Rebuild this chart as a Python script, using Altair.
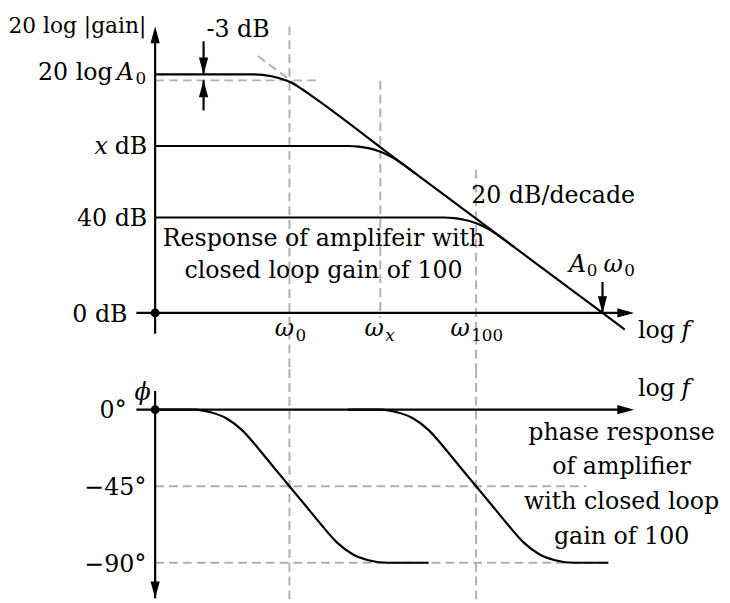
import altair as alt
import pandas as pd

# ---------------- data (x: log f in decades from the vertical axis; top y: dB; bottom y: degrees)
# gain curves
gain_a_x = [0, 1.547, 1.703, 1.859, 2.016, 2.125, 2.25, 2.391, 3.8125, 5.375, 7.078, 7.43]
gain_a_y = [100, 100, 99.79, 99.13, 98.01, 96.94, 95.11, 92.59, 64.5, 33.63, 0, -7.0]
gain_x_x = [0, 3.0625, 3.219, 3.375, 3.531, 3.656, 3.781, 3.906, 4.125]
gain_x_y = [70, 70, 69.75, 69.07, 67.87, 66.51, 64.77, 62.57, 58.33]
gain_40_x = [0, 4.578, 4.734, 4.891, 5.047, 5.172, 5.297, 5.422, 5.6875]
gain_40_y = [40, 40, 39.77, 39.09, 37.89, 36.53, 34.79, 32.59, 27.45]

# phase curves
phase_open_x = [0, 0.625, 0.875, 1.125, 1.375, 1.625, 1.875, 2.125, 2.375, 2.625, 2.875, 3.125, 3.375, 3.6875, 4.328]
phase_open_y = [0, 0, -1.5, -5, -12, -22.5, -33.8, -45, -56.2, -67.5, -78, -85, -88.5, -90, -90]
phase_cl_x = [3.047, 3.578, 3.828, 4.078, 4.328, 4.578, 4.828, 5.078, 5.328, 5.578, 5.828, 6.078, 6.328, 6.64, 7.172]
phase_cl_y = [0, 0, -1.5, -5, -12, -22.5, -33.8, -45, -56.2, -67.5, -78, -85, -88.5, -90, -90]

# marked frequencies
w0, wx, w100, a0w0 = 2.125, 3.5625, 5.078, 7.078

# straight solid segments (x, y, x2, y2)
top_solid = [
    (0, -8.7, 0, 118.0),          # dB axis
    (-0.297, 0, 7.5, 0),          # log f axis
    (0.766, 113.9, 0.766, 100.0), # -3 dB marker (down)
    (0.766, 84.9, 0.766, 97.5),   # -3 dB marker (up)
    (a0w0, 13.0, a0w0, 0.0),      # A0 w0 marker
]
bot_solid = [
    (0, 11.03, 0, -110.9),        # phase axis
    (-0.297, 0, 7.5, 0),          # log f axis
]
# dashed guides
top_dash = [
    (w0, 120.1, w0, -23.6),
    (wx, 97.3, wx, -2.07),
    (w100, 60.0, w100, -23.6),
    (0, 97.5, 2.594, 97.5),
    (1.625, 107.7, 2.391, 92.59),
]
bot_dash = [
    (w0, 23.81, w0, -111.48),
    (w100, 23.81, w100, -111.48),
    (0, -45, 6.828, -45),
    (0, -90, 7.203, -90),
]
# arrow heads (tip x, tip y, direction)
top_heads = [(0, 120.1, "up"), (7.578, 0, "right"), (0.766, 100.0, "down"),
             (0.766, 97.5, "up"), (a0w0, 0, "down")]
bot_heads = [(7.578, 0, "right"), (0, -110.9, "down")]

# text pieces: x, y, text, align, italic, size
top_text = [
    (-0.1406, 117.4, "20 log |gain|", "right", False, 22),
    (0.8125, 115.8, "-3 dB", "left", False, 24),
    (-0.672, 97.85, "20 log", "right", False, 24),
    (-0.609, 97.85, "A", "left", True, 24),
    (-0.3125, 95.86, "0", "left", False, 17),
    (-0.125, 66.79, "dB", "right", False, 24),
    (-0.75, 66.79, "x", "right", True, 24),
    (-0.125, 36.44, "40 dB", "right", False, 24),
    (-0.4375, -3.60, "0 dB", "right", False, 24),
    (2.664, 28.16, "Response of amplifeir with", "center", False, 24),
    (2.664, 14.49, "closed loop gain of 100", "center", False, 24),
    (5.0, 46.17, "20 dB/decade", "left", False, 24),
    (6.547, 17.10, "A", "left", True, 24),
    (6.828, 15.53, "0", "left", False, 17),
    (7.094, 17.10, "ω", "left", True, 24),
    (7.422, 15.53, "0", "left", False, 17),
    (1.891, -9.52, "ω", "left", True, 24),
    (2.219, -11.59, "0", "left", False, 17),
    (3.3125, -9.52, "ω", "left", True, 24),
    (3.64, -11.59, "x", "left", True, 17),
    (4.672, -9.52, "ω", "left", True, 24),
    (5.0, -11.59, "100", "left", False, 17),
    (7.64, -10.48, "log", "left", False, 24),
    (8.328, -10.48, "f", "left", True, 24),
]
bot_text = [
    (-0.328, 5.98, "ϕ", "left", True, 24),
    (-0.453, -4.65, "0°", "right", False, 24),
    (-0.1406, -49.94, "−45°", "right", False, 24),
    (-0.1406, -95.23, "−90°", "right", False, 24),
    (7.64, 8.13, "log", "left", False, 24),
    (8.328, 8.13, "f", "left", True, 24),
    (7.38, -17.83, "phase response", "center", False, 24),
    (7.38, -38.03, "of amplifier", "center", False, 24),
    (7.38, -58.47, "with closed loop", "center", False, 24),
    (7.38, -78.8, "gain of 100", "center", False, 24),
]

# ---------------- layout / style
W, H_TOP, H_BOT = 722, 362, 233
X_DOM = [-2.3125, 8.96875]
TOP_DOM = [-23.60, 126.29]
BOT_DOM = [-111.48, 23.81]
FONT = "DejaVu Serif"
GREY = "#b0b0b0"
LW = 2.2
ARROWS = {
    "up": "M0,0L0.55,2L-0.55,2Z",
    "down": "M0,0L0.55,-2L-0.55,-2Z",
    "right": "M0,0L-2,0.55L-2,-0.55Z",
}


def xs(field):
    return alt.X(f"{field}:Q", scale=alt.Scale(domain=X_DOM, nice=False, zero=False), axis=None)


def ys(field, dom):
    return alt.Y(f"{field}:Q", scale=alt.Scale(domain=dom, nice=False, zero=False), axis=None)


def curves_layer(curves, dom):
    rows = []
    for name, cx, cy in curves:
        for i, (a, b) in enumerate(zip(cx, cy)):
            rows.append({"curve": name, "i": i, "x": a, "y": b})
    return alt.Chart(pd.DataFrame(rows)).mark_line(
        interpolate="monotone", color="black", strokeWidth=LW
    ).encode(x=xs("x"), y=ys("y", dom), detail="curve:N", order="i:Q")


def rules_layer(segs, dom, dashed):
    df = pd.DataFrame(segs, columns=["x", "y", "x2", "y2"])
    if dashed:
        mk = alt.Chart(df).mark_rule(color=GREY, strokeWidth=2, strokeDash=[9, 5])
    else:
        mk = alt.Chart(df).mark_rule(color="black", strokeWidth=LW)
    return mk.encode(x=xs("x"), x2="x2:Q", y=ys("y", dom), y2="y2:Q")


def heads_layer(heads, dom):
    df = pd.DataFrame(heads, columns=["x", "y", "dir"])
    return alt.Chart(df).mark_point(filled=True, size=289, color="black", opacity=1, strokeWidth=0).encode(
        x=xs("x"), y=ys("y", dom),
        shape=alt.Shape("dir:N", scale=alt.Scale(domain=list(ARROWS), range=list(ARROWS.values())), legend=None),
    )


def dot_layer(dom):
    return alt.Chart(pd.DataFrame({"x": [0], "y": [0]})).mark_circle(size=80, color="black", opacity=1).encode(
        x=xs("x"), y=ys("y", dom))


def text_layers(items, dom):
    df = pd.DataFrame(items, columns=["x", "y", "text", "align", "italic", "fs"])
    out = []
    for (al, it), sub in df.groupby(["align", "italic"]):
        out.append(alt.Chart(sub).mark_text(
            align=al, baseline="alphabetic", font=FONT, fontStyle="italic" if it else "normal", color="black"
        ).encode(x=xs("x"), y=ys("y", dom), text="text:N", size=alt.Size("fs:Q", scale=None)))
    return out


top = alt.layer(
    rules_layer(top_dash, TOP_DOM, True),
    rules_layer(top_solid, TOP_DOM, False),
    curves_layer([("A0", gain_a_x, gain_a_y), ("x", gain_x_x, gain_x_y), ("40", gain_40_x, gain_40_y)], TOP_DOM),
    heads_layer(top_heads, TOP_DOM),
    dot_layer(TOP_DOM),
    *text_layers(top_text, TOP_DOM),
).properties(width=W, height=H_TOP)

bottom = alt.layer(
    rules_layer(bot_dash, BOT_DOM, True),
    rules_layer(bot_solid, BOT_DOM, False),
    curves_layer([("open", phase_open_x, phase_open_y), ("closed", phase_cl_x, phase_cl_y)], BOT_DOM),
    heads_layer(bot_heads, BOT_DOM),
    dot_layer(BOT_DOM),
    *text_layers(bot_text, BOT_DOM),
).properties(width=W, height=H_BOT)

chart = alt.vconcat(top, bottom, spacing=0, bounds="flush").resolve_scale(
    y="independent"
).properties(padding=0).configure_view(stroke=None)

chart.save("out.html", embed_options={"renderer": "svg", "actions": False})
